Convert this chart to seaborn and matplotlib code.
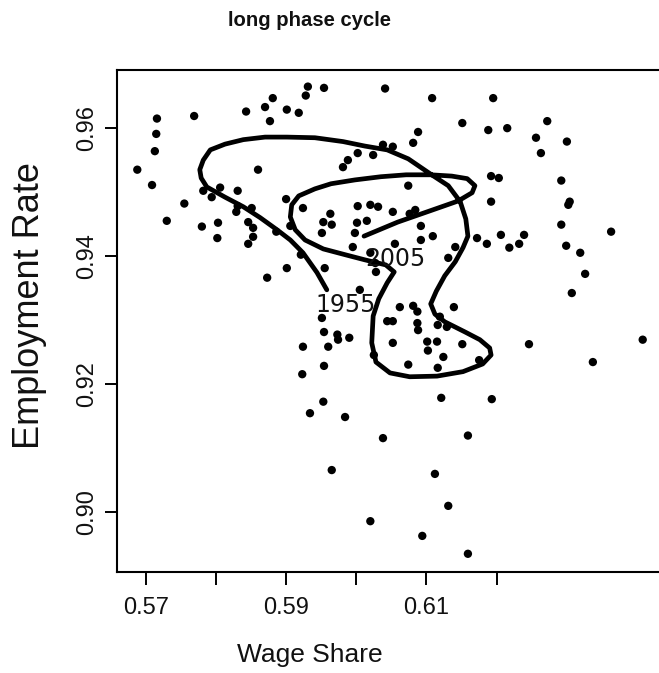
import numpy as np
import pandas as pd
import matplotlib
matplotlib.use('Agg')
import matplotlib.pyplot as plt
import seaborn as sns

sns.set_style('white')
plt.rcParams['font.family'] = ['Liberation Sans', 'DejaVu Sans']

wage_share = [
    0.5716, 0.5715, 0.5713, 0.5688, 0.5709, 0.5769, 0.5843, 0.5870, 0.5881, 0.5877,
    0.5901, 0.5918, 0.5928, 0.5931, 0.5954, 0.6041, 0.5860, 0.5782, 0.5794, 0.5806,
    0.5831, 0.5755, 0.5730, 0.5780, 0.5803, 0.5802, 0.5831, 0.5851, 0.5829, 0.5846,
    0.5853, 0.5853, 0.5846, 0.5900, 0.5924, 0.5886, 0.5906, 0.5921, 0.5901, 0.5955,
    0.5873, 0.5981, 0.5988, 0.6002, 0.6024, 0.6038, 0.6002, 0.6020, 0.6031, 0.5953,
    0.5963, 0.5965, 0.5951, 0.6001, 0.6015, 0.5998, 0.5995, 0.6020, 0.6027, 0.6005,
    0.6108, 0.6195, 0.6151, 0.6188, 0.6215, 0.6272, 0.6256, 0.6263, 0.6300, 0.6088,
    0.6081, 0.6052, 0.6192, 0.6203, 0.6292, 0.6074, 0.6192, 0.6304, 0.6302, 0.6292,
    0.6363, 0.6206, 0.6239, 0.6109, 0.6052, 0.6076, 0.6084, 0.6092, 0.6092, 0.6055,
    0.6141, 0.6131, 0.6172, 0.6186, 0.6218, 0.6232, 0.6299, 0.6319, 0.6326, 0.6307,
    0.6062, 0.6081, 0.6087, 0.6139, 0.6044, 0.6052, 0.6087, 0.6088, 0.6119, 0.6116,
    0.6129, 0.6052, 0.6101, 0.6115, 0.6102, 0.6151, 0.6124, 0.6175, 0.6074, 0.6116,
    0.6025, 0.6246, 0.6408, 0.6337, 0.6121, 0.6193, 0.6038, 0.6159, 0.6112, 0.6131,
    0.6020, 0.6094, 0.6159, 0.5951, 0.5954, 0.5973, 0.5974, 0.5990, 0.5960, 0.5924,
    0.5954, 0.5923, 0.5953, 0.5934, 0.5984, 0.5965, 0.6028,
]
employment_rate = [
    0.9615, 0.9591, 0.9564, 0.9535, 0.9511, 0.9619, 0.9626, 0.9633, 0.9647, 0.9611,
    0.9629, 0.9624, 0.9651, 0.9665, 0.9663, 0.9662, 0.9535, 0.9502, 0.9492, 0.9507,
    0.9502, 0.9482, 0.9455, 0.9446, 0.9452, 0.9428, 0.9478, 0.9475, 0.9469, 0.9453,
    0.9444, 0.9430, 0.9419, 0.9489, 0.9475, 0.9438, 0.9447, 0.9402, 0.9381, 0.9381,
    0.9366, 0.9539, 0.9550, 0.9561, 0.9558, 0.9574, 0.9478, 0.9480, 0.9477, 0.9453,
    0.9466, 0.9449, 0.9436, 0.9452, 0.9455, 0.9436, 0.9414, 0.9405, 0.9389, 0.9347,
    0.9647, 0.9647, 0.9608, 0.9597, 0.9600, 0.9611, 0.9585, 0.9561, 0.9579, 0.9594,
    0.9577, 0.9571, 0.9525, 0.9522, 0.9518, 0.9510, 0.9485, 0.9485, 0.9480, 0.9449,
    0.9438, 0.9433, 0.9433, 0.9431, 0.9469, 0.9466, 0.9472, 0.9447, 0.9425, 0.9419,
    0.9414, 0.9397, 0.9428, 0.9419, 0.9413, 0.9419, 0.9416, 0.9405, 0.9372, 0.9342,
    0.9320, 0.9322, 0.9313, 0.9320, 0.9298, 0.9298, 0.9295, 0.9284, 0.9305, 0.9292,
    0.9289, 0.9264, 0.9266, 0.9266, 0.9252, 0.9262, 0.9242, 0.9237, 0.9230, 0.9225,
    0.9245, 0.9262, 0.9269, 0.9234, 0.9178, 0.9176, 0.9115, 0.9119, 0.9059, 0.9009,
    0.8985, 0.8962, 0.8934, 0.9303, 0.9281, 0.9277, 0.9269, 0.9272, 0.9258, 0.9258,
    0.9228, 0.9215, 0.9172, 0.9154, 0.9148, 0.9065, 0.9375,
]

# smoothed trajectory from 1955 to 2005
cycle_wage = [
    0.5958, 0.5944, 0.5924, 0.5906, 0.5887, 0.5863, 0.5839, 0.5813, 0.5787, 0.5779,
    0.5777, 0.5782, 0.5792, 0.5813, 0.5839, 0.5870, 0.5901, 0.5941, 0.5981, 0.6012,
    0.6044, 0.6074, 0.6106, 0.6131, 0.6148, 0.6156, 0.6159, 0.6152, 0.6141, 0.6126,
    0.6114, 0.6106, 0.6112, 0.6126, 0.6155, 0.6176, 0.6190, 0.6192, 0.6180, 0.6152,
    0.6115, 0.6076, 0.6048, 0.6028, 0.6022, 0.6024, 0.6032, 0.6044, 0.6054, 0.6042,
    0.6012, 0.5984, 0.5953, 0.5927, 0.5913, 0.5906, 0.5908, 0.5918, 0.5941, 0.5964,
    0.5998, 0.6035, 0.6071, 0.6106, 0.6136, 0.6158, 0.6169, 0.6165, 0.6145, 0.6106,
    0.6059, 0.6011,
]
cycle_emp = [
    0.9347, 0.9374, 0.9405, 0.9425, 0.9441, 0.9460, 0.9477, 0.9492, 0.9508, 0.9522,
    0.9535, 0.9550, 0.9566, 0.9575, 0.9582, 0.9586, 0.9586, 0.9585, 0.9579, 0.9572,
    0.9566, 0.9552, 0.9528, 0.9510, 0.9485, 0.9458, 0.9431, 0.9413, 0.9391, 0.9369,
    0.9345, 0.9325, 0.9309, 0.9297, 0.9281, 0.9269, 0.9256, 0.9245, 0.9231, 0.9219,
    0.9212, 0.9211, 0.9217, 0.9234, 0.9264, 0.9306, 0.9333, 0.9358, 0.9375, 0.9386,
    0.9394, 0.9402, 0.9411, 0.9425, 0.9441, 0.9461, 0.9480, 0.9494, 0.9505, 0.9513,
    0.9519, 0.9524, 0.9527, 0.9527, 0.9525, 0.9521, 0.9510, 0.9499, 0.9486, 0.9471,
    0.9453, 0.9431,
]
year_labels = ['1955', '2005']
year_x = [0.5985, 0.6055]
year_y = [0.9323, 0.9395]

x_ticks = [0.57, 0.58, 0.59, 0.60, 0.61, 0.62]
x_ticklabels = ['0.57', '', '0.59', '', '0.61', '']
y_ticks = [0.90, 0.92, 0.94, 0.96]
y_ticklabels = ['0.90', '0.92', '0.94', '0.96']

pts = pd.DataFrame({'wage': wage_share, 'emp': employment_rate})
cyc = pd.DataFrame({'wage': cycle_wage, 'emp': cycle_emp})

fig = plt.figure(figsize=(6.59, 6.73), dpi=100)
ax = fig.add_axes([0.1783, 0.1496, 0.8384, 0.7464])

sns.scatterplot(data=pts, x='wage', y='emp', color='black', s=36,
                edgecolor='none', ax=ax, zorder=3)
sns.lineplot(data=cyc, x='wage', y='emp', sort=False, estimator=None,
             color='black', linewidth=3.4, ax=ax, zorder=4)
for lab, lx, ly in zip(year_labels, year_x, year_y):
    ax.text(lx, ly, lab, ha='center', va='center', fontsize=17,
            family='DejaVu Sans', color='#111111', zorder=5)

ax.set_xlim(0.56598, 0.64469)
ax.set_ylim(0.8905, 0.9691)
ax.set_xticks(x_ticks)
ax.set_xticklabels(x_ticklabels)
ax.set_yticks(y_ticks)
ax.set_yticklabels(y_ticklabels, rotation=90, va='center')
ax.tick_params(axis='both', direction='out', length=9, width=1.4,
               color='black', labelsize=17, labelcolor='#111111',
               bottom=True, left=True)
ax.tick_params(axis='x', pad=9)
ax.tick_params(axis='y', pad=5)
for sp in ax.spines.values():
    sp.set_color('black')
    sp.set_linewidth(1.5)

ax.set_xlabel('Wage Share', fontsize=19, color='#111111')
ax.xaxis.set_label_coords(0.3484, -0.1646)
ax.xaxis.label.set_va('center')
ax.set_ylabel('Employment Rate', fontsize=26, color='#111111')
ax.yaxis.set_label_coords(-0.1584, 0.532)
ax.yaxis.label.set_va('center')

fig.text(0.4704, 0.9688, 'long phase cycle', ha='center', va='center',
         fontsize=14.6, fontweight='bold', color='#111111')

fig.savefig('out.png', dpi=100)
